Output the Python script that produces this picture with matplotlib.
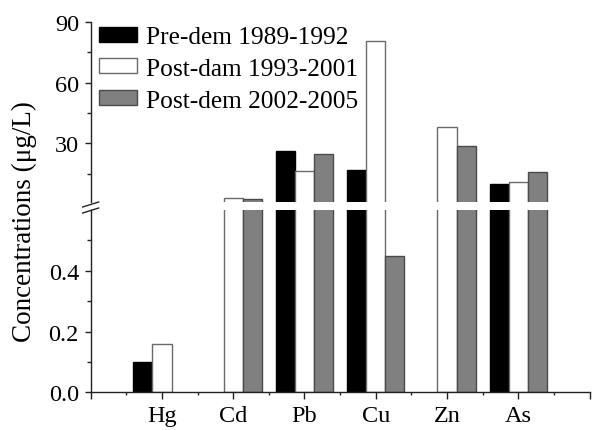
import matplotlib
matplotlib.use("Agg")
import matplotlib.pyplot as plt
import numpy as np

plt.rcParams['font.family'] = ['Liberation Serif', 'DejaVu Serif']

categories = ["Hg", "Cd", "Pb", "Cu", "Zn", "As"]
series_names = ["Pre-dem 1989-1992", "Post-dam 1993-2001", "Post-dem 2002-2005"]
pre_dem = [0.10, np.nan, 26.3, 17.0, np.nan, 9.9]
post_dam = [0.16, 3.0, 16.5, 80.6, 38.2, 10.8]
post_dem = [np.nan, 2.4, 24.7, 0.45, 28.8, 15.7]
low_ticks = [0.0, 0.2, 0.4]
high_ticks = [30, 60, 90]

W, H = 594, 431
fig = plt.figure(figsize=(W / 100, H / 100), dpi=100)

left, right = 90.7, 589.5
low_top, low_bot = 211.0, 393.3
up_top, up_bot = 22.7, 203.3
ax_lo = fig.add_axes([left / W, 1 - low_bot / H, (right - left) / W, (low_bot - low_top) / H])
ax_hi = fig.add_axes([left / W, 1 - up_bot / H, (right - left) / W, (up_bot - up_top) / H])

x = np.arange(1, len(categories) + 1)
bw = 0.268
styles = [dict(facecolor="black", edgecolor="black"),
          dict(facecolor="white", edgecolor="#6a6a6a"),
          dict(facecolor="#808080", edgecolor="#4a4a4a")]
data = [pre_dem, post_dam, post_dem]
handles = []
for ax in (ax_lo, ax_hi):
    for k, (vals, st) in enumerate(zip(data, styles)):
        b = ax.bar(x + (k - 1) * bw, vals, width=bw, linewidth=1.0, **st, label=series_names[k])
        if ax is ax_hi:
            handles.append(b)

ax_lo.set_ylim(0, 0.6)
ax_hi.set_ylim(0.9, 90)
for ax in (ax_lo, ax_hi):
    ax.set_xlim(0, 7)
    ax.spines['right'].set_visible(False)
    ax.spines['top'].set_visible(False)
    for s in ax.spines.values():
        s.set_linewidth(1.0)
        s.set_color("#222222")
    ax.tick_params(axis='y', which='major', direction='out', length=4.5, width=1.0,
                   labelsize=17.5, pad=4, color="#222222")
    ax.tick_params(axis='y', which='minor', direction='out', length=2.6, width=1.0, color="#222222")

ax_hi.spines['bottom'].set_visible(False)
ax_hi.tick_params(axis='x', which='both', bottom=False, labelbottom=False)
ax_hi.set_yticks(high_ticks)
ax_hi.set_yticks([15, 45, 75], minor=True)
ax_hi.set_yticklabels([str(t) for t in high_ticks])

ax_lo.set_yticks(low_ticks)
ax_lo.set_yticks([0.1, 0.3, 0.5], minor=True)
ax_lo.set_yticklabels([f"{t:.1f}" for t in low_ticks])
ax_lo.set_xticks(np.arange(0, 8))
ax_lo.set_xticklabels([""] + categories + [""])
ax_lo.set_xticks(np.arange(0.5, 7, 1.0), minor=True)
ax_lo.tick_params(axis='x', which='major', direction='out', length=4.8, width=1.0,
                  labelsize=17.5, pad=4.5, color="#222222")
ax_lo.tick_params(axis='x', which='minor', direction='out', length=2.5, width=1.0, color="#222222")

# break marks on the left spine
for yc in (205.5, 211.5):
    xs = np.array([left - 8, left + 8])
    ys = np.array([yc + 2.5, yc - 2.5])
    fig.add_artist(plt.Line2D(xs / W, 1 - ys / H, color="#222222", linewidth=1.0))

fig.text(24 / W, 1 - 222 / H, "Concentrations (μg/L)", rotation=90, ha='center', va='center', fontsize=19.5)

ax_hi.legend(handles=handles, labels=series_names, loc='upper left', bbox_to_anchor=(0.016, 0.975),
             frameon=False, fontsize=18.3, handlelength=1.52, handleheight=0.52,
             handletextpad=0.33, labelspacing=0.38, borderaxespad=0, borderpad=0)

fig.savefig("out.png", dpi=100)
